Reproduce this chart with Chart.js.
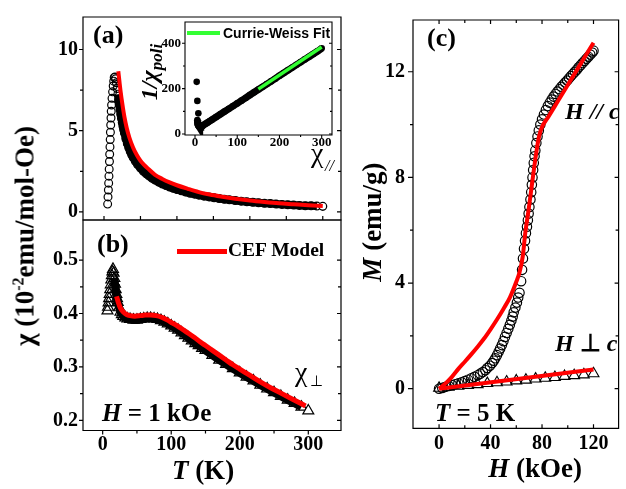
<!DOCTYPE html>
<html><head><meta charset="utf-8">
<script src="https://cdn.jsdelivr.net/npm/chart.js@4.4.0/dist/chart.umd.min.js"></script>
<style>
html,body{margin:0;padding:0;background:#fff;}
#wrap{position:relative;width:626px;height:489px;overflow:hidden;background:#fff;}
canvas{position:absolute;left:0;top:0;}
.t{position:absolute;line-height:1;white-space:nowrap;font-family:'Liberation Serif','Times New Roman',serif;font-weight:bold;color:#000;}
.rot{transform:translate(-50%,-50%) rotate(-90deg);}
.cx{transform:translateX(-50%);}
</style></head><body>
<div id="wrap">
<canvas id="cA" width="626" height="489"></canvas>
<canvas id="cB" width="626" height="489"></canvas>
<canvas id="cC" width="626" height="489"></canvas>
<canvas id="cI" width="626" height="489"></canvas>

<div class="t" style="left:93px;top:22px;font-size:26px;">(a)</div>
<div class="t" style="left:97px;top:231px;font-size:26px;">(b)</div>
<div class="t" style="left:427px;top:25px;font-size:26px;">(c)</div>

<div style="position:absolute;left:177px;top:249px;width:50px;height:4.5px;background:#ff0000;"></div>
<div class="t" style="left:228px;top:239.5px;font-size:19.5px;">CEF Model</div>

<div style="position:absolute;left:187px;top:31px;width:33px;height:3.5px;background:#33ff33;"></div>
<div class="t" style="left:223px;top:26px;font-size:14px;font-family:'Liberation Sans',Arial,sans-serif;">Currie-Weiss Fit</div>

<div class="t" style="left:311px;top:139px;font-size:28px;font-weight:normal;">χ</div>
<div class="t" style="left:325px;top:157.5px;font-size:16px;font-weight:normal;font-style:italic;">//</div>

<div class="t" style="left:295px;top:358px;font-size:28px;font-weight:normal;">χ</div>
<div class="t" style="left:310px;top:374px;font-size:15px;font-weight:normal;">⊥</div>

<div class="t" style="left:102px;top:400px;font-size:25px;"><i>H</i> = 1 kOe</div>
<div class="t" style="left:565px;top:99px;font-size:24px;font-style:italic;">H // c</div>
<div class="t" style="left:555px;top:331px;font-size:24px;"><i>H</i> ⊥ <i>c</i></div>
<div class="t" style="left:435px;top:400px;font-size:25px;"><i>T</i> = 5 K</div>

<div class="t cx" style="left:203px;top:457px;font-size:27px;"><i>T</i> (K)</div>
<div class="t cx" style="left:535px;top:455px;font-size:27px;"><i>H</i> (kOe)</div>
<div class="t rot" style="left:25px;top:236px;font-size:27px;">χ (10<span style="font-size:16px;position:relative;top:-10px;">-2</span>emu/mol-Oe)</div>
<div class="t rot" style="left:372px;top:222px;font-size:27px;"><i>M</i> (emu/g)</div>
<div class="t rot" style="left:149px;top:72px;font-size:24px;font-style:italic;">1/χ<span style="font-size:17px;position:relative;top:5px;">poli</span></div>
</div>

<script>
// ---------- Panel (a): chi parallel ----------
const aRiseT   = [5.0,5.5,6.0,6.4,6.8,7.1,7.5,7.8,8.2,8.5,8.8,9.2,9.6,9.9,10.4,11.0,11.8,12.6,13.3,14.0];
const aRiseChi = [0.48,0.92,1.35,1.77,2.2,2.63,3.1,3.55,4.0,4.45,4.9,5.35,5.78,6.19,6.58,6.99,7.39,7.75,8.05,8.28];
const aTailT   = [15,16,17,18,19,20,21,22,23,24,25,26,27,28,30,32,34,36,38,40,43,46,50,54,58,62,66,70,75,80,85,90,95,100,106,112,118,124,130,137,144,151,158,165,172,180,188,196,204,212,220,228,236,244,252,260,268,276,284,292];
const aTailChi = [8.3,8.2,7.95,7.6,7.25,6.9,6.6,6.3,6.0,5.75,5.5,5.27,5.05,4.85,4.5,4.2,3.95,3.72,3.52,3.35,3.12,2.92,2.7,2.5,2.34,2.2,2.07,1.96,1.83,1.72,1.62,1.53,1.45,1.38,1.3,1.22,1.15,1.09,1.03,0.97,0.92,0.87,0.82,0.78,0.74,0.7,0.66,0.62,0.59,0.56,0.53,0.51,0.48,0.46,0.44,0.42,0.4,0.38,0.37,0.355];
const aEndT    = [300];
const aEndChi  = [0.34];
const aFitT    = [19.6,21,22.5,24,26,28,31,35,40,45,50,55,60,70,80,90,100,115,130,145,160,180,200,220,240,260,280,300];
const aFitChi  = [8.66,8.1,7.5,7.0,6.4,5.85,5.2,4.55,3.95,3.5,3.15,2.9,2.68,2.28,2.03,1.82,1.64,1.42,1.22,1.07,0.95,0.81,0.7,0.61,0.53,0.47,0.41,0.36];
const aXTicks = [0,100,200,300];
const aXMinor = [50,150,250];
const aYTicks = [0,5,10];
const aYMinor = [2.5,7.5];

// ---------- Inset: 1/chi_poli ----------
const iIsoT = [4,5.5,7.9];
const iIsoY = [230,146,91];
const iBandT = [5.5,6,6.5,7,8,9,10,11,12,13,14,16,18,20,25,30,35,40,50,60,70,80,90,100,110,120,130,140,150,160,170,180,190,200,210,220,230,240,250,260,270,280,290,300];
const iBandY = [62,55,48,43,38,35,33,31,30,30,31,33,36,39,45,51,57,63,75,87,99,111,123,135,147,159,172,184,196,208,220,232,244,257,269,281,293,305,317,329,341,353,365,378];
const iFitT = [150,300];
const iFitY = [198,384];
const iXTicks = [0,100,200,300];
const iXMinor = [50,150,250];
const iYTicks = [0,200,400];
const iYMinor = [100,300];

// ---------- Panel (b): chi perpendicular ----------
const bRiseT   = [7,7.8,8.6,9.4,10.2,11,11.8,12.6,13.4,14.2,15];
const bRiseChi = [0.405,0.412,0.42,0.428,0.436,0.445,0.454,0.463,0.471,0.478,0.483];
const bTailT   = [16,17,18,19,20,21,22,24,26,28,30,33,36,40,45,50,55,60,65,70,75,80,85,90,95,100,105,110,115,120,125,130,135,140,145,150,160,170,180,190,200,210,220,230,240,250,260,270,280,290];
const bTailChi = [0.476,0.466,0.455,0.445,0.436,0.428,0.421,0.411,0.403,0.398,0.395,0.392,0.39,0.389,0.388,0.388,0.389,0.39,0.391,0.391,0.39,0.389,0.387,0.384,0.381,0.377,0.373,0.369,0.364,0.359,0.354,0.349,0.344,0.34,0.335,0.331,0.322,0.313,0.305,0.297,0.289,0.281,0.274,0.266,0.259,0.252,0.245,0.238,0.232,0.225];
const bEndT    = [300];
const bEndChi  = [0.218];
const bFitT    = [20.3,23,26,30,35,40,47,55,62,70,78,86,94,102,110,118,126,134,142,150,160,170,180,190,200,215,230,245,260,275,290,296];
const bFitChi  = [0.432,0.42,0.41,0.403,0.398,0.396,0.395,0.396,0.397,0.397,0.396,0.393,0.388,0.382,0.376,0.369,0.362,0.355,0.347,0.34,0.331,0.322,0.313,0.304,0.296,0.284,0.272,0.261,0.251,0.241,0.231,0.227];
const bXTicks = [0,100,200,300];
const bXMinor = [50,150,250];
const bYTicks = [0.2,0.3,0.4,0.5];
const bYMinor = [0.25,0.35,0.45];

// ---------- Panel (c): M(H) at 5 K ----------
const cParH = [0,2.5,5,7.5,10,12.5,15,17.5,20,22.5,25,27.5,30,32,34,36,37.5,39.5,41.3,42.5,43.7,45,46.3,47.5,48.8,50,51.2,52.5,53.8,55,56.2,57.2,58,59.3,60.5,61.5,62.5,63.75,64.5,65.2,66,66.8,67.5,68.3,69,69.6,70.2,71,71.6,72.1,72.6,73.1,73.6,74.2,74.8,75.6,76.5,77.5,78.7,80,81.5,83,84.5,86,87.5,89,90.5,92,93.5,95,96.5,98,99.5,101,102.5,104,105.5,107,108.5,110,111.5,113,114.5,116,117.5,119,120];
const cParM = [0,0.03,0.07,0.1,0.14,0.17,0.2,0.24,0.29,0.34,0.39,0.45,0.51,0.57,0.63,0.7,0.78,0.87,0.97,1.06,1.15,1.27,1.4,1.52,1.65,1.8,1.96,2.11,2.27,2.42,2.58,2.73,2.89,3.07,3.26,3.45,3.63,4.07,4.5,4.93,5.3,5.6,5.89,6.13,6.38,6.63,6.88,7.16,7.44,7.72,8.0,8.28,8.55,8.8,9.02,9.3,9.55,9.78,10.0,10.2,10.38,10.55,10.7,10.83,10.95,11.06,11.16,11.25,11.34,11.43,11.51,11.59,11.67,11.75,11.84,11.92,12.0,12.08,12.17,12.25,12.33,12.41,12.49,12.57,12.65,12.73,12.8];
const cParFitH = [0,5,10,15,20,25,30,35,40,45,50,55,60,62.5,65,67,69.5,71,73.2,75.7,77.5,79.5,85,90,95,100,105,110,115,120];
const cParFitM = [0,0.2,0.45,0.75,1.02,1.3,1.59,1.9,2.25,2.62,3.02,3.45,4.05,4.4,5.0,5.9,6.75,7.3,8.12,8.99,9.5,9.85,10.3,10.7,11.1,11.5,11.9,12.3,12.7,13.1];
const cPerpH = [0,7.5,15,22.5,30,37.5,45,52.5,60,67.5,75,82.5,90,97.5,105,112.5,120];
const cPerpM = [0.02,0.06,0.1,0.13,0.16,0.2,0.23,0.26,0.3,0.33,0.37,0.4,0.43,0.47,0.5,0.53,0.57];
const cPerpFitH = [0,120];
const cPerpFitM = [0,0.73];
const cXTicks = [0,40,80,120];
const cXMinor = [20,60,100];
const cYTicks = [0,4,8,12];
const cYMinor = [2,6,10];

// ---------------------------------------------------------
const W = 626, H = 489;
const SERIF = 'Liberation Serif';
Chart.defaults.font.family = SERIF;
const xy = (xs, ys) => xs.map((v, i) => ({x: v, y: ys[i]}));
const NONE = 'rgba(0,0,0,0)';

const SPECS = {
  cA: {lw: 1.2, sides: {
    left:  {dir: 'out', major: aYTicks, minor: aYMinor, len: 4, mlen: 3},
    right: {dir: 'in',  major: aYTicks, minor: aYMinor, len: 4, mlen: 3},
    bottom:{dir: 'in',  major: aXTicks, minor: aXMinor, len: 4, mlen: 4}}},
  cB: {lw: 1.2, sides: {
    left:  {dir: 'out', major: bYTicks, minor: bYMinor, len: 4, mlen: 3},
    right: {dir: 'in',  major: bYTicks, minor: bYMinor, len: 4, mlen: 3},
    bottom:{dir: 'out', major: bXTicks, minor: bXMinor, len: 4, mlen: 3}}},
  cC: {lw: 1.2, sides: {
    left:  {dir: 'out', major: cYTicks, minor: cYMinor, len: 5, mlen: 3},
    right: {dir: 'in',  major: cYTicks, minor: cYMinor, len: 4, mlen: 3},
    top:   {dir: 'in',  major: cXTicks, minor: cXMinor, len: 4, mlen: 3},
    bottom:{dir: 'in',  major: cXTicks, minor: cXMinor, len: 4, mlen: 3}}},
  cI: {lw: 1.1, sides: {
    left:  {dir: 'out', major: iYTicks, minor: iYMinor, len: 3, mlen: 2},
    right: {dir: 'in',  major: iYTicks, minor: iYMinor, len: 3, mlen: 2},
    bottom:{dir: 'out', major: iXTicks, minor: iXMinor, len: 3, mlen: 2}}}
};

const frameTicks = {
  id: 'frameTicks',
  afterDraw(chart) {
    const o = SPECS[chart.canvas.id];
    if (!o) return;
    const ctx = chart.ctx, a = chart.chartArea;
    const sx = chart.scales.x, sy = chart.scales.y;
    ctx.save();
    ctx.strokeStyle = '#000';
    ctx.lineWidth = o.lw;
    ctx.beginPath();
    ctx.rect(a.left, a.top, a.right - a.left, a.bottom - a.top);
    ctx.stroke();
    ctx.beginPath();
    for (const side of Object.keys(o.sides)) {
      const s = o.sides[side];
      const inward = s.dir === 'in' ? 1 : -1;
      const groups = [[s.major || [], s.len], [s.minor || [], s.mlen]];
      for (const g of groups) {
        for (const v of g[0]) {
          const len = g[1];
          if (side === 'left' || side === 'right') {
            const p = sy.getPixelForValue(v);
            const x0 = side === 'left' ? a.left : a.right;
            const sg = (side === 'left' ? 1 : -1) * inward;
            ctx.moveTo(x0, p); ctx.lineTo(x0 + sg * len, p);
          } else {
            const p = sx.getPixelForValue(v);
            const y0 = side === 'top' ? a.top : a.bottom;
            const sg = (side === 'top' ? 1 : -1) * inward;
            ctx.moveTo(p, y0); ctx.lineTo(p, y0 + sg * len);
          }
        }
      }
    }
    ctx.stroke();
    ctx.restore();
  }
};

function build(id, area, xr, yr, xTicks, yTicks, cfg, datasets) {
  const font = {family: SERIF, size: cfg.fs, weight: 'bold'};
  return new Chart(document.getElementById(id), {
    type: 'scatter',
    data: {datasets},
    options: {
      responsive: false, animation: false, events: [],
      layout: {padding: {left: 0, top: area.t, right: W - area.r, bottom: 0}},
      plugins: {legend: {display: false}, tooltip: {enabled: false}},
      scales: {
        x: {type: 'linear', min: xr[0], max: xr[1],
            grid: {display: false, drawTicks: false}, border: {display: false},
            ticks: {display: cfg.showX, font, color: '#000', padding: cfg.padX, maxRotation: 0, autoSkip: false,
                    callback: v => String(v)},
            afterBuildTicks: s => { s.ticks = xTicks.map(v => ({value: v})); },
            afterFit: s => { s.height = H - area.b; }},
        y: {type: 'linear', min: yr[0], max: yr[1],
            grid: {display: false, drawTicks: false}, border: {display: false},
            ticks: {display: true, font, color: '#000', padding: cfg.padY, autoSkip: false,
                    callback: v => String(v)},
            afterBuildTicks: s => { s.ticks = yTicks.map(v => ({value: v})); },
            afterFit: s => { s.width = area.l; }}
      }
    },
    plugins: [frameTicks]
  });
}

const openPts = (r, bw, style) => ({pointStyle: style, pointRadius: r, pointBorderWidth: bw,
  pointBorderColor: '#000', pointBackgroundColor: NONE});

// Panel (a)
build('cA', {l: 83, t: 13, r: 341, b: 220}, [-28.8, 325], [-0.5, 12], aXTicks, aYTicks,
  {fs: 20, showX: false, padX: 0, padY: 5}, [
  {data: xy(aFitT, aFitChi), showLine: true, borderColor: '#ff0000', borderWidth: 4, pointRadius: 0,
   cubicInterpolationMode: 'monotone'},
  Object.assign({data: xy(aEndT, aEndChi)}, openPts(3.9, 1.3, 'circle'), {pointBackgroundColor: '#fff'}),
  Object.assign({data: xy(aTailT, aTailChi), showLine: true, borderColor: '#000', borderWidth: 8,
   segment: {borderColor: c => c.p0.parsed.x < 19 ? NONE : '#000'}}, openPts(3.9, 1.2, 'circle')),
  Object.assign({data: xy(aRiseT, aRiseChi)}, openPts(3.9, 1.2, 'circle'))
]);

// Panel (b)
build('cB', {l: 83, t: 220, r: 341, b: 430.5}, [-28.7, 347.7], [0.181, 0.575], bXTicks, bYTicks,
  {fs: 20, showX: true, padX: 2, padY: 5}, [
  {data: xy(bFitT, bFitChi), showLine: true, borderColor: '#ff0000', borderWidth: 5, pointRadius: 0,
   cubicInterpolationMode: 'monotone'},
  Object.assign({data: xy(bEndT, bEndChi)}, openPts(6.3, 1.2, 'triangle'), {pointBackgroundColor: '#fff'}),
  Object.assign({data: xy(bTailT, bTailChi), showLine: true, borderColor: '#000', borderWidth: 8,
   segment: {borderColor: c => c.p0.parsed.x < 17 ? NONE : '#000'}}, openPts(6.3, 1.2, 'triangle')),
  Object.assign({data: xy(bRiseT, bRiseChi)}, openPts(6.3, 1.2, 'triangle'))
]);

// Panel (c)
build('cC', {l: 413, t: 13, r: 625, b: 428.3}, [-20.25, 139.5], [-1.5, 13.96], cXTicks, cYTicks,
  {fs: 20, showX: true, padX: 4, padY: 8}, [
  {data: xy(cParFitH, cParFitM), showLine: true, borderColor: '#ff0000', borderWidth: 4, pointRadius: 0,
   cubicInterpolationMode: 'monotone'},
  {data: xy(cPerpFitH, cPerpFitM), showLine: true, borderColor: '#ff0000', borderWidth: 4, pointRadius: 0},
  Object.assign({data: xy(cParH, cParM)}, openPts(4.7, 1.2, 'circle')),
  Object.assign({data: xy(cPerpH, cPerpM)}, openPts(6.3, 1.1, 'triangle'))
]);

// Inset
build('cI', {l: 185, t: 22, r: 332, b: 135}, [-23.7, 324.4], [-4.4, 494], iXTicks, iYTicks,
  {fs: 13, showX: true, padX: 0, padY: 4}, [
  {data: xy(iFitT, iFitY), showLine: true, borderColor: '#33ff33', borderWidth: 3.5, pointRadius: 0},
  {data: xy(iIsoT, iIsoY), pointStyle: 'circle', pointRadius: 3.3, pointBorderWidth: 0, pointBackgroundColor: '#000'},
  {data: xy(iBandT, iBandY), showLine: true, borderColor: '#000', borderWidth: 7,
   pointStyle: 'circle', pointRadius: 3.3, pointBorderWidth: 0, pointBackgroundColor: '#000'}
]);
</script>
</body></html>
